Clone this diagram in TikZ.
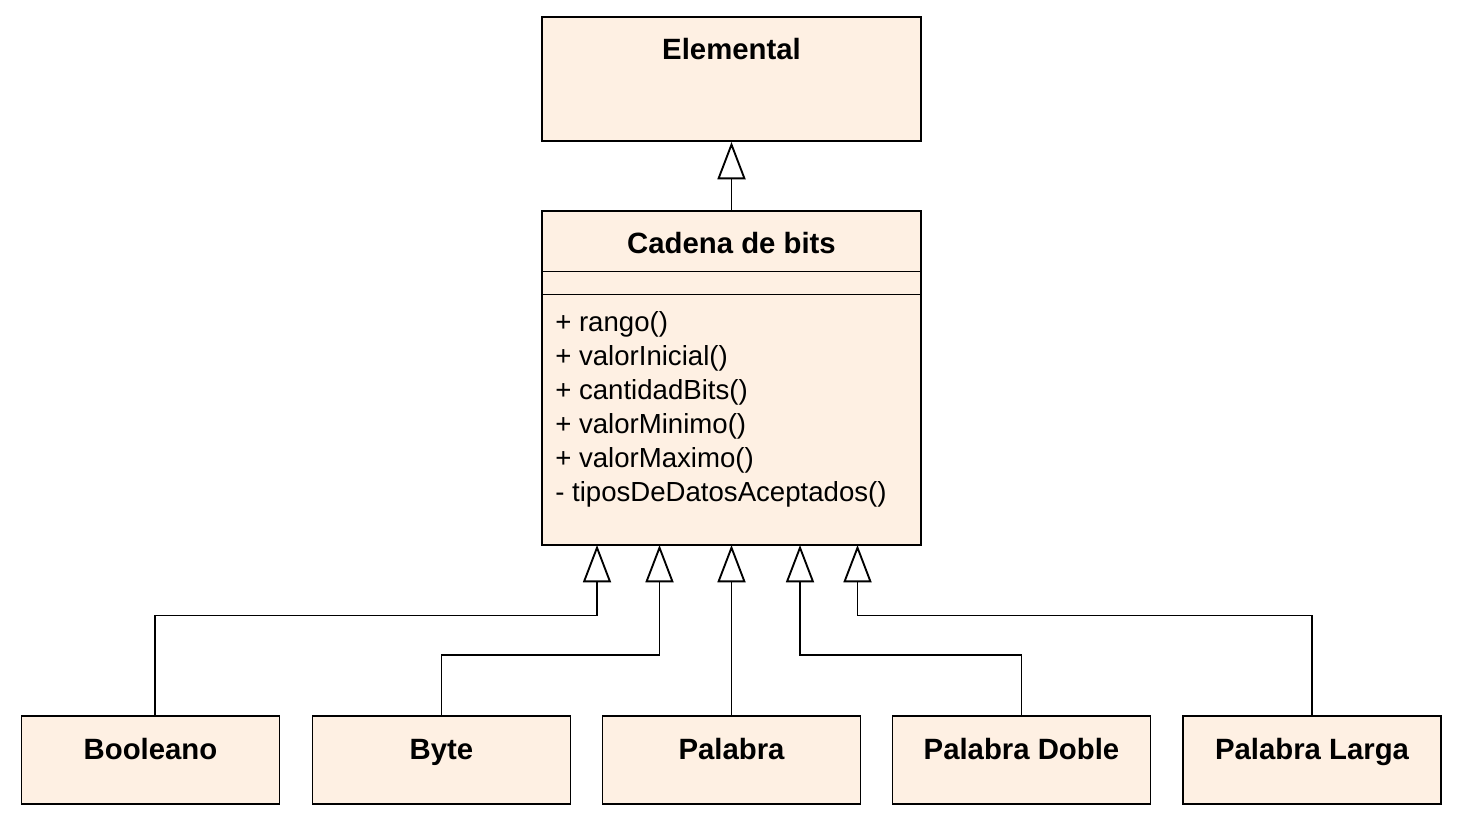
\documentclass[tikz,border=0pt]{standalone}
\usepackage{fontspec}
\setmainfont{Liberation Sans}
\usetikzlibrary{arrows.meta}
\definecolor{classfill}{RGB}{254,240,227}
\tikzset{
  cls/.style={draw=black, line width=1.4pt, fill=classfill, rectangle, inner sep=0pt},
  smallcls/.style={cls, minimum width=193.5pt, minimum height=66pt},
  ttl/.style={font=\fontsize{22}{26}\selectfont\bfseries, anchor=base, inner sep=0pt},
  opsfont/.style={font=\fontsize{20.7}{25.5}\selectfont, align=left, anchor=north west, inner sep=0pt},
  inh/.style={draw=black, line width=1.4pt, -{Triangle[open, length=28pt, width=21pt, line width=1.4pt]}}
}
\begin{document}
\begin{tikzpicture}[x=0.75pt, y=-0.75pt]
\path[fill=white, use as bounding box] (0,0) rectangle (1460,820);

% Elemental
\node[cls, minimum width=284.25pt, minimum height=93pt] (elem) at (731.5,79) {};
\node[ttl] (elemt) at (731.5,60) {Elemental};

% Cadena de bits
\node[cls, minimum width=284.25pt, minimum height=250.5pt] (cad) at (731.5,378) {};
\node[ttl] (cadt) at (731.5,253) {Cadena de bits};
\draw[line width=1.4pt] (542,271.5) -- (921,271.5);
\draw[line width=1.4pt] (542,294.5) -- (921,294.5);
\node[opsfont] (ops) at (555,311) {+ rango()\\+ valorInicial()\\+ cantidadBits()\\+ valorMinimo()\\+ valorMaximo()\\- tiposDeDatosAceptados()};

% Subclasses
\node[smallcls] (bool) at (150.5,760) {};
\node[ttl] (boolt) at (150.5,759) {Booleano};
\node[smallcls] (byte) at (441.5,760) {};
\node[ttl] (bytet) at (441.5,759) {Byte};
\node[smallcls] (pal) at (731.5,760) {};
\node[ttl] (palt) at (731.5,759) {Palabra};
\node[smallcls] (pald) at (1021.5,760) {};
\node[ttl] (paldt) at (1021.5,759) {Palabra Doble};
\node[smallcls] (pall) at (1312,760) {};
\node[ttl] (pallt) at (1312,759) {Palabra Larga};

% attachment points on Cadena de bits
\coordinate (t1) at (597,545);
\coordinate (t2) at (659.5,545);
\coordinate (t3) at (731.5,545);
\coordinate (t4) at (800,545);
\coordinate (t5) at (857.5,545);

% connectors
\draw[inh] (cad.north) -- (elem.south);
\draw[inh] ([xshift=3.5pt]bool.north) |- (t1 |- 0,615.5) -- (t1);
\draw[inh] (byte.north) |- (t2 |- 0,655) -- (t2);
\draw[inh] (pal.north) -- (t3);
\draw[inh] (pald.north) |- (t4 |- 0,655) -- (t4);
\draw[inh] (pall.north) |- (t5 |- 0,615.5) -- (t5);
\end{tikzpicture}
\end{document}
